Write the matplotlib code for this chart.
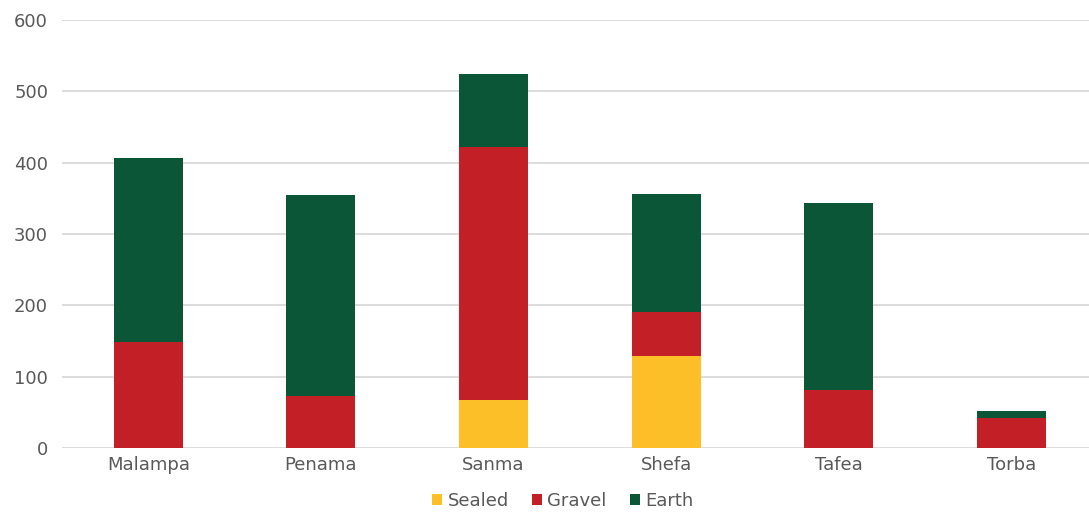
import matplotlib.pyplot as plt
import numpy as np

# Road length by province and surface type
provinces = ["Malampa", "Penama", "Sanma", "Shefa", "Tafea", "Torba"]
sealed = [0, 0, 67, 129, 0, 0]
gravel = [149, 73, 355, 62, 81, 42]
earth = [258, 282, 102, 165, 262, 10]

colors = {"Sealed": "#FDBF27", "Gravel": "#C22026", "Earth": "#0B5637"}
text_color = "#595959"

plt.rcParams['font.family'] = ['DejaVu Sans']

fig = plt.figure(figsize=(10.89, 5.13), dpi=100)
ax = fig.add_axes([62 / 1089, 65 / 513, 1 - 62 / 1089, 428 / 513])

x = np.arange(len(provinces))
w = 0.4
bottom = np.zeros(len(provinces))
for name, vals in [("Sealed", sealed), ("Gravel", gravel), ("Earth", earth)]:
    ax.bar(x, vals, w, bottom=bottom, color=colors[name], label=name, zorder=3)
    bottom += np.array(vals)

ax.set_ylim(0, 600)
ax.set_xlim(-0.5, 5.45)
ax.set_yticks(range(0, 601, 100))
ax.yaxis.grid(True, color="#D9D9D9", linewidth=1.3, zorder=0)
ax.set_axisbelow(True)
for s in ax.spines.values():
    s.set_visible(False)
ax.tick_params(length=0, labelsize=13, colors=text_color)
ax.tick_params(axis="x", pad=6)
ax.tick_params(axis="y", pad=10)
ax.set_xticks(x)
ax.set_xticklabels(provinces)

leg = fig.legend(loc="lower center", bbox_to_anchor=(0.517, -0.025), ncol=3,
                 frameon=False, fontsize=13, handlelength=0.55, handleheight=0.55,
                 handletextpad=0.3, columnspacing=1.3)
for t in leg.get_texts():
    t.set_color(text_color)

fig.savefig("out.png", dpi=100)
